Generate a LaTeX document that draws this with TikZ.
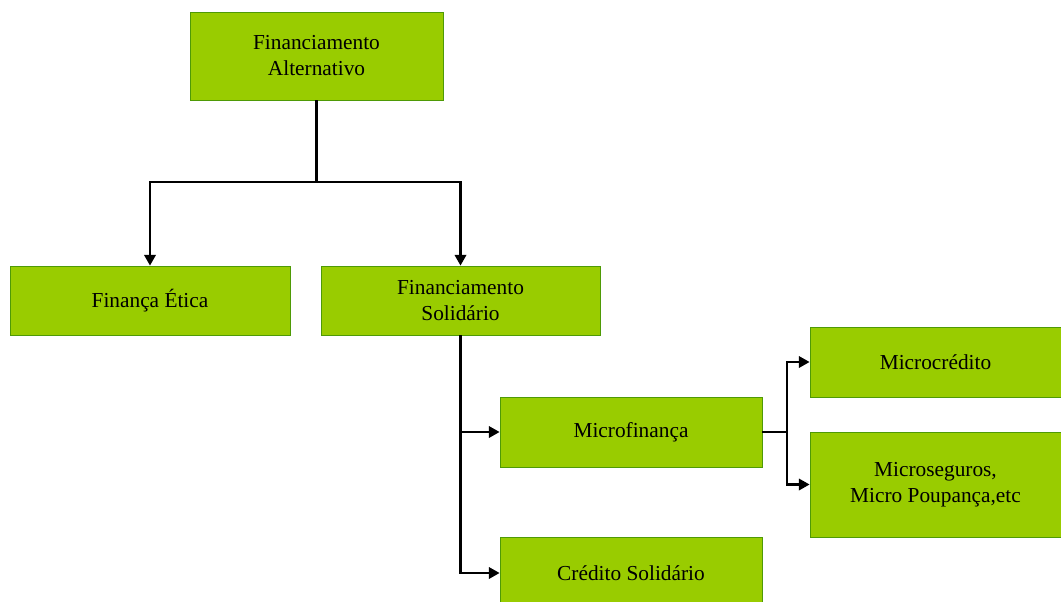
\documentclass[tikz,border=0pt]{standalone}
\usepackage{fontspec}
\setmainfont{Liberation Serif}
\usetikzlibrary{arrows.meta}
\definecolor{boxfill}{HTML}{99CC00}
\definecolor{boxline}{HTML}{4E9A06}
\begin{document}
\begin{tikzpicture}[x=0.75pt,y=-0.75pt,
  box/.style={draw=boxline, fill=boxfill, line width=0.6pt, align=center, inner sep=0pt,
    font=\fontsize{16}{19.5}\selectfont},
  link/.style={draw=black, line width=1.7pt},
  arr/.style={link, -{Triangle[length=8pt,width=8.5pt]}}]
\useasboundingbox (0,0) rectangle (1061,601);
\node[box, minimum width=189.75pt, minimum height=66pt] (A) at (316.5,56) {Financiamento\\Alternativo};
\node[box, minimum width=210pt, minimum height=51.75pt] (FE) at (150,300.5) {Finança Ética};
\node[box, minimum width=209.25pt, minimum height=51.75pt] (FS) at (460.5,300.5) {Financiamento\\Solidário};
\node[box, minimum width=196.5pt, minimum height=52.5pt] (MF) at (631,432) {Microfinança};
\node[box, minimum width=196.5pt, minimum height=54pt] (CS) at (631,573) {Crédito Solidário};
\node[box, minimum width=188.25pt, minimum height=52.5pt] (MC) at (935.5,362) {Microcrédito};
\node[box, minimum width=188.25pt, minimum height=78.75pt] (MS) at (935.5,484.5) {Microseguros,\\Micro Poupança,etc};
\coordinate (j1) at (316.5,182);
\coordinate (j2) at (787,432);
\draw[link] (A.south) -- (j1);
\draw[arr] (j1) -| (FE.north);
\draw[arr] (j1) -| (FS.north);
\draw[arr] (FS.south) |- (MF.west);
\draw[arr] (FS.south) |- (CS.west);
\draw[link] (MF.east) -- (j2);
\draw[arr] (j2) |- (MC.west);
\draw[arr] (j2) |- (MS.west);
\end{tikzpicture}
\end{document}
